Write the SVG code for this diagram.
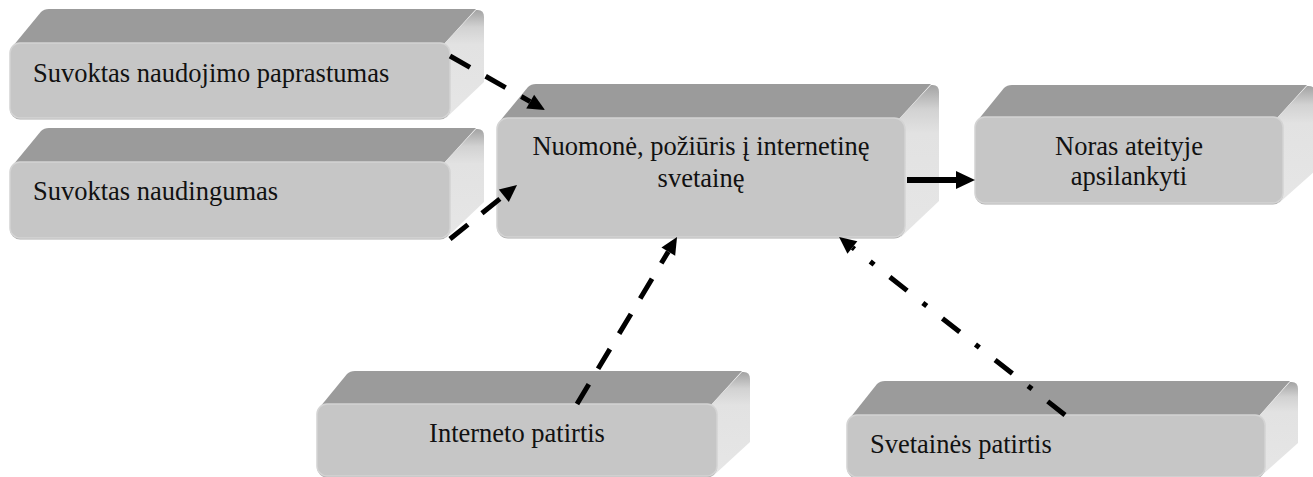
<svg xmlns="http://www.w3.org/2000/svg" width="1313" height="477" viewBox="0 0 1313 477">
  <style>
    .top { fill: #9b9b9b; }
    .side { fill: url(#sideShade); }
    .shadow { fill: #adadad; }
    .front { fill: #c6c6c6; stroke: #d4d4d4; stroke-width: 1.5; }
    .label { font-family: "Liberation Serif", "Times New Roman", serif; font-size: 26.5px; fill: #111; }
    .mid { text-anchor: middle; }
    .link { fill: none; stroke: #000; stroke-width: 5; stroke-linecap: butt; }
    .dash { stroke-dasharray: 23 18; }
    .dashdot { stroke-dasharray: 22 20 5 20; }
    .solid { stroke-width: 6; }
  </style>
  <defs>
    <linearGradient id="sideShade" x1="0" y1="0" x2="0" y2="1">
      <stop offset="0" stop-color="#a3a3a3"/>
      <stop offset="0.16" stop-color="#d2d2d2"/>
      <stop offset="0.32" stop-color="#e2e2e2"/>
      <stop offset="1" stop-color="#e6e6e6"/>
    </linearGradient>
    <marker id="head" markerUnits="userSpaceOnUse" markerWidth="20" markerHeight="18" refX="0" refY="8" orient="auto" overflow="visible">
      <path d="M0,0 L17,8 L0,16 Z" fill="#000"/>
    </marker>
    <marker id="headSolid" markerUnits="userSpaceOnUse" markerWidth="22" markerHeight="20" refX="0" refY="9" orient="auto" overflow="visible">
      <path d="M0,0 L19,9 L0,18 Z" fill="#000"/>
    </marker>
  </defs>

  <!-- Suvoktas naudojimo paprastumas -->
  <g id="node-paprastumas">
    <path class="top" d="M13,46 L41,12 Q44,9 49,9 L476,9 L444,44 Z"/>
    <path class="side" d="M444,44 L476,10 Q484,9 484,17 L484,82 L446,118 Z"/>
    <rect class="shadow" x="10" y="44.5" width="440" height="75" rx="10"/>
    <rect class="front" x="10" y="43" width="440" height="75" rx="10"/>
    <text class="label" x="33" y="82">Suvoktas naudojimo paprastumas</text>
  </g>

  <!-- Suvoktas naudingumas -->
  <g id="node-naudingumas">
    <path class="top" d="M13,165 L41,131 Q44,128 49,128 L476,128 L444,163 Z"/>
    <path class="side" d="M444,163 L476,129 Q484,128 484,136 L484,202 L446,238 Z"/>
    <rect class="shadow" x="10" y="163.5" width="440" height="76" rx="10"/>
    <rect class="front" x="10" y="162" width="440" height="76" rx="10"/>
    <text class="label" x="33" y="200">Suvoktas naudingumas</text>
  </g>

  <!-- Nuomonė, požiūris į internetinę svetainę -->
  <g id="node-nuomone">
    <path class="top" d="M500,121 L528,87 Q531,84 536,84 L931,84 L899,119 Z"/>
    <path class="side" d="M899,119 L931,85 Q939,84 939,92 L939,201 L901,237 Z"/>
    <rect class="shadow" x="497" y="119.5" width="408" height="119" rx="11"/>
    <rect class="front" x="497" y="118" width="408" height="119" rx="11"/>
    <text class="label mid" x="701" y="155">Nuomonė, požiūris į internetinę</text>
    <text class="label mid" x="701" y="187">svetainę</text>
  </g>

  <!-- Noras ateityje apsilankyti -->
  <g id="node-noras">
    <path class="top" d="M978,120 L1004,88 Q1007,85 1012,85 L1307,85 L1277,118 Z"/>
    <path class="side" d="M1277,118 L1307,86 Q1315,85 1315,93 L1315,171 L1279,203 Z"/>
    <rect class="shadow" x="975" y="118.5" width="308" height="86" rx="10"/>
    <rect class="front" x="975" y="117" width="308" height="86" rx="10"/>
    <text class="label mid" x="1129" y="155">Noras ateityje</text>
    <text class="label mid" x="1129" y="185">apsilankyti</text>
  </g>

  <!-- Interneto patirtis -->
  <g id="node-interneto">
    <path class="top" d="M320,407 L347,374 Q350,371 355,371 L742,371 L711,405 Z"/>
    <path class="side" d="M711,405 L742,372 Q750,371 750,379 L750,442 L713,476 Z"/>
    <rect class="shadow" x="317" y="405.5" width="400" height="72" rx="10"/>
    <rect class="front" x="317" y="404" width="400" height="72" rx="10"/>
    <text class="label mid" x="517" y="442">Interneto patirtis</text>
  </g>

  <!-- Svetainės patirtis -->
  <g id="node-svetaines">
    <path class="top" d="M850,418 L877,384 Q880,381 885,381 L1290,381 L1259,416 Z"/>
    <path class="side" d="M1259,416 L1290,382 Q1298,381 1298,389 L1298,443 L1261,476 Z"/>
    <rect class="shadow" x="847" y="416.5" width="418" height="62" rx="10"/>
    <rect class="front" x="847" y="415" width="418" height="62" rx="10"/>
    <text class="label" x="870" y="453">Svetainės patirtis</text>
  </g>

  <!-- connectors -->
  <g id="connectors">
    <path class="link dash" d="M450,56 L530.2,101.6" marker-end="url(#head)"/>
    <path class="link dash" d="M450,239 L503.8,195.7" marker-end="url(#head)"/>
    <path class="link dash" d="M577,404 L668.3,251.6" marker-end="url(#head)"/>
    <path class="link dashdot" d="M1065,415 L852.4,247.5" marker-end="url(#head)"/>
    <path class="link solid" d="M907,180 L956,180" marker-end="url(#headSolid)"/>
  </g>
</svg>
